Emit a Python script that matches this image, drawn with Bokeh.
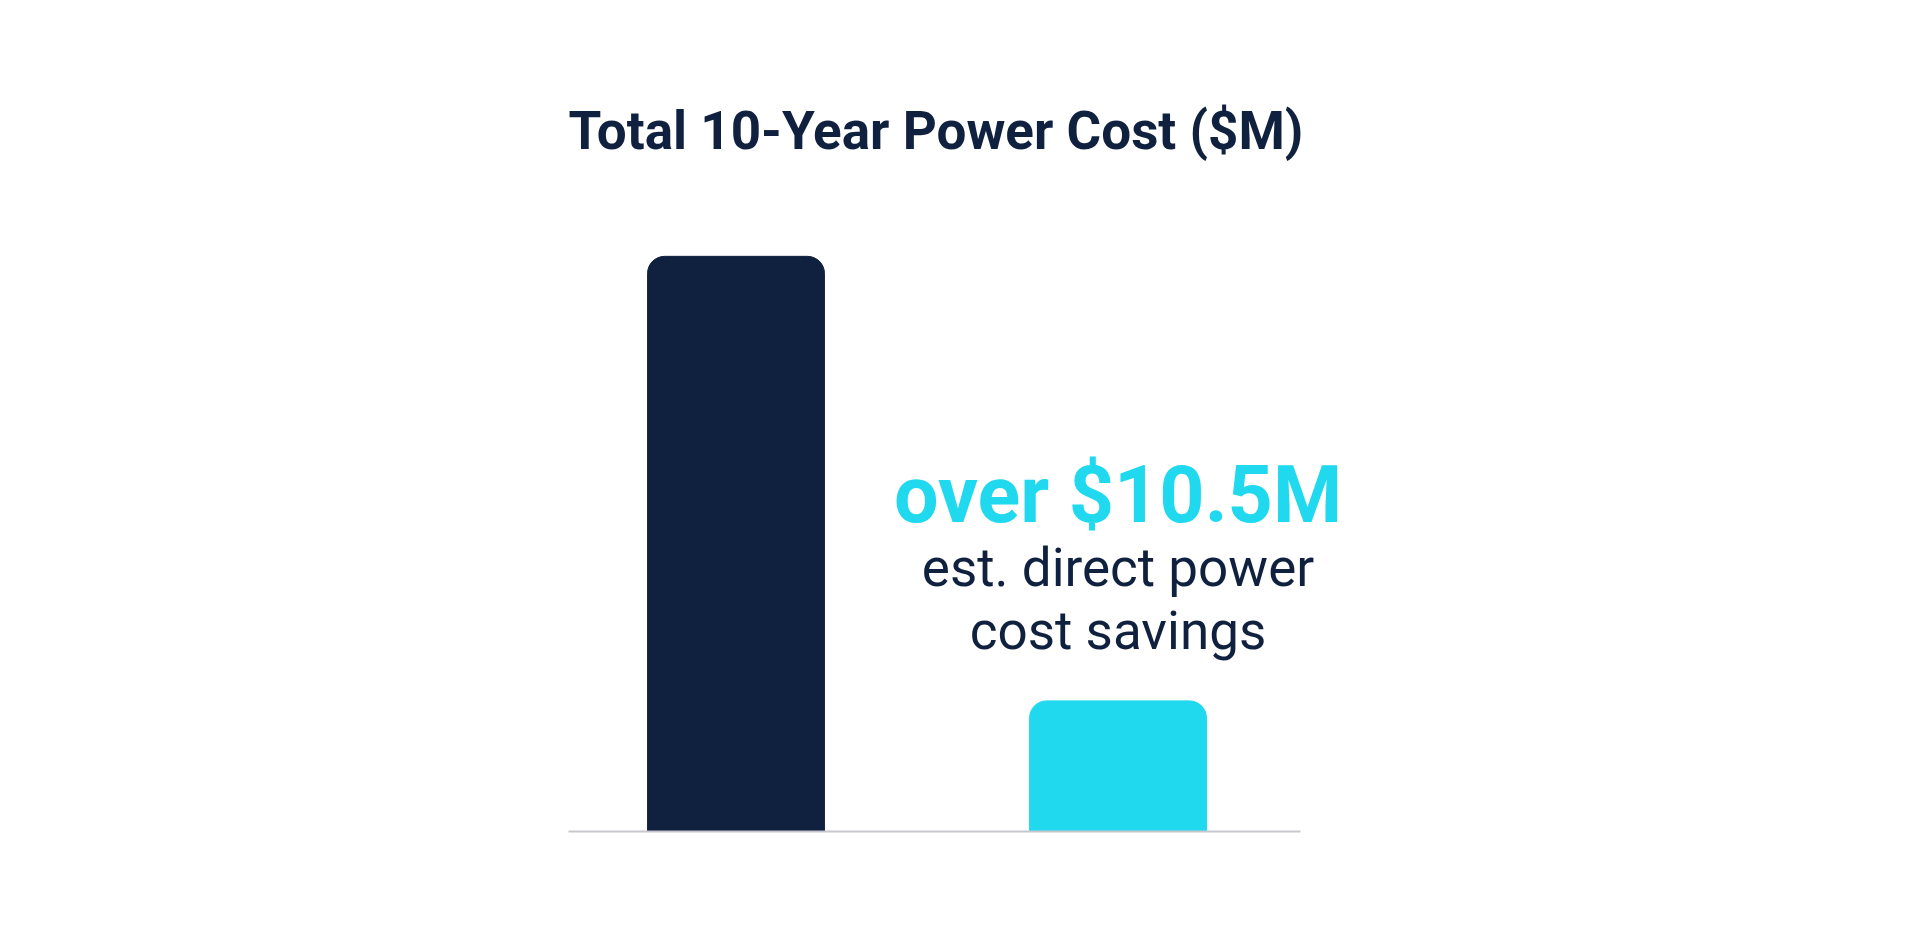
import numpy as np
from bokeh.plotting import figure
from bokeh.models import Range1d, ColumnDataSource, Label
from bokeh.embed import file_html
from bokeh.resources import INLINE

# data
categories = ["Current power cost", "With savings"]
costs = [13.65, 3.1]             # $M, total 10-year power cost
bar_colors = ["#10213f", "#20d9ef"]
savings_headline = "over $10.5M"
savings_note = ["est. direct power", "cost savings"]

NAVY = "#10213f"
CYAN = "#20d9ef"
FONT = "Roboto"

xs = np.arange(len(categories))
src = ColumnDataSource(dict(x=xs, cost=costs, color=bar_colors, name=categories))

# frame is wider than the baseline so the savings text is not clipped
x_lo, x_hi = -0.4385, 1.4777
p = figure(width=1904, height=923, output_backend="svg", toolbar_location=None,
           x_range=Range1d(x_lo, 2.1793), y_range=Range1d(0, 15.45),
           min_border_left=568, min_border_right=336,
           min_border_top=180, min_border_bottom=92,
           title="Total 10-Year Power Cost ($M)")

p.vbar(x="x", top="cost", width=0.463, color="color", source=src,
       border_radius=(17, 17, 0, 0))

# annotation above the savings bar
p.add_layout(Label(x=xs[1], y=costs[1], y_offset=206, text=savings_headline,
                   text_align="center", text_baseline="alphabetic",
                   text_font=FONT, text_font_style="bold",
                   text_font_size="79px", text_color=CYAN))
for line, off in zip(savings_note, [133, 70]):
    p.add_layout(Label(x=xs[1], y=costs[1], y_offset=off, text=line,
                       text_align="center", text_baseline="alphabetic",
                       text_font=FONT, text_font_size="53px", text_color=NAVY))

p.title.text_font = FONT
p.title.text_font_size = "53px"
p.title.text_font_style = "bold"
p.title.text_color = NAVY
p.title.align = "left"
p.title.standoff = 38

p.yaxis.visible = False
p.xaxis.bounds = (x_lo, x_hi)
p.xaxis.ticker = []
p.xaxis.major_tick_line_color = None
p.xaxis.minor_tick_line_color = None
p.xaxis.axis_line_color = "#c6c8cd"
p.xaxis.axis_line_width = 2
p.grid.visible = False
p.outline_line_color = None

open("out.html", "w").write(file_html(p, INLINE))
